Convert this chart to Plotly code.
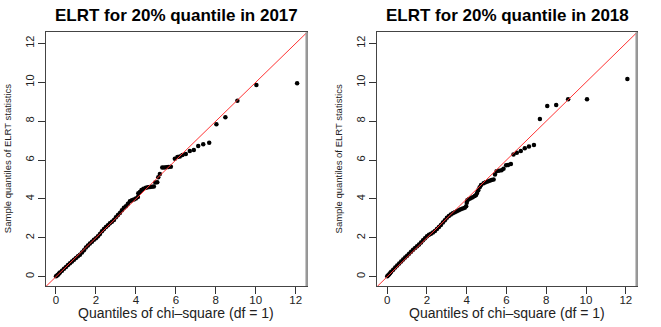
import plotly.graph_objects as go
from plotly.subplots import make_subplots

# theoretical chi-square(1) quantiles vs sample ELRT quantiles
x_2017 = [0.00, 0.05, 0.10, 0.15, 0.20, 0.30, 0.40, 0.50, 0.60, 0.70, 0.80, 0.90,
          1.00, 1.10, 1.20, 1.30, 1.40, 1.50, 1.60, 1.70, 1.80, 1.90, 2.00, 2.10,
          2.20, 2.30, 2.40, 2.50, 2.60, 2.70, 2.80, 2.90, 3.00, 3.10, 3.20, 3.30,
          3.40, 3.50, 3.60, 3.70, 3.80, 3.90, 4.00, 4.10, 4.12, 4.20, 4.28, 4.38,
          4.50, 4.60, 4.70, 4.80, 4.90, 4.97, 5.07, 5.12, 5.20, 5.32, 5.42, 5.52,
          5.62, 5.75, 5.95, 6.08, 6.20, 6.33, 6.50, 6.70, 6.90, 7.12, 7.37, 7.67,
          8.03, 8.48, 9.08, 10.03, 12.07]
y_2017 = [0.02, 0.06, 0.10, 0.16, 0.22, 0.31, 0.41, 0.50, 0.60, 0.69, 0.78, 0.87,
          0.96, 1.05, 1.13, 1.24, 1.36, 1.50, 1.60, 1.70, 1.79, 1.90, 1.98, 2.08,
          2.20, 2.33, 2.45, 2.55, 2.65, 2.75, 2.82, 2.92, 3.05, 3.17, 3.28, 3.42,
          3.55, 3.62, 3.75, 3.88, 3.93, 3.97, 4.02, 4.10, 4.29, 4.35, 4.46, 4.52,
          4.57, 4.60, 4.61, 4.62, 4.64, 4.84, 4.86, 5.12, 5.28, 5.61, 5.62, 5.63,
          5.64, 5.66, 6.07, 6.15, 6.18, 6.26, 6.31, 6.47, 6.52, 6.72, 6.81, 6.89,
          7.84, 8.20, 9.05, 9.86, 9.95]

x_2018 = [0.00, 0.05, 0.10, 0.15, 0.20, 0.30, 0.40, 0.50, 0.60, 0.70, 0.80, 0.90,
          1.00, 1.10, 1.20, 1.30, 1.40, 1.50, 1.60, 1.70, 1.80, 1.90, 2.00, 2.10,
          2.20, 2.30, 2.40, 2.50, 2.60, 2.70, 2.80, 2.90, 3.00, 3.10, 3.20, 3.30,
          3.40, 3.50, 3.60, 3.70, 3.80, 3.90, 3.97, 4.00, 4.03, 4.10, 4.20, 4.30,
          4.40, 4.47, 4.52, 4.58, 4.65, 4.72, 4.85, 4.95, 5.05, 5.15, 5.25, 5.35,
          5.42, 5.50, 5.62, 5.75, 5.85, 5.98, 6.08, 6.22, 6.35, 6.52, 6.72, 6.92,
          7.13, 7.38, 7.68, 8.05, 8.50, 9.10, 10.05, 12.08]
y_2018 = [0.02, 0.07, 0.13, 0.19, 0.25, 0.36, 0.47, 0.57, 0.68, 0.78, 0.88, 0.98,
          1.08, 1.18, 1.28, 1.38, 1.47, 1.56, 1.66, 1.76, 1.87, 1.98, 2.08, 2.15,
          2.21, 2.27, 2.35, 2.45, 2.55, 2.66, 2.78, 2.90, 3.03, 3.12, 3.20, 3.26,
          3.31, 3.36, 3.42, 3.47, 3.51, 3.55, 3.62, 3.80, 3.93, 3.98, 4.04, 4.09,
          4.15, 4.20, 4.30, 4.45, 4.60, 4.72, 4.80, 4.86, 4.90, 4.94, 4.97, 5.00,
          5.25, 5.42, 5.45, 5.48, 5.55, 5.73, 5.75, 5.80, 6.29, 6.38, 6.47, 6.60,
          6.69, 6.77, 8.11, 8.78, 8.83, 9.13, 9.13, 10.17]

ref_line = [-1, 13]          # y = x reference
tick_vals = [0, 2, 4, 6, 8, 10, 12]
titles = ["ELRT for 20% quantile in 2017", "ELRT for 20% quantile in 2018"]
x_title = "Quantiles of chi\u2013square (df = 1)"
y_title = "Sample quantiles of ELRT statistics"

W, H = 661, 327
domains_x = [(46 / W, 306.7 / W), (377.3 / W, 636.7 / W)]
domain_y = (1 - 286 / H, 1 - 32.3 / H)

fig = make_subplots(rows=1, cols=2)

for i, (xs, ys) in enumerate([(x_2017, y_2017), (x_2018, y_2018)]):
    col = i + 1
    fig.add_trace(go.Scatter(x=xs, y=ys, mode="markers",
                             marker=dict(color="black", size=4.5),
                             showlegend=False), row=1, col=col)
    fig.add_trace(go.Scatter(x=ref_line, y=ref_line, mode="lines",
                             line=dict(color="#ff3333", width=1),
                             showlegend=False), row=1, col=col)

axis_common = dict(
    range=[-0.5, 12.55], tickvals=tick_vals, ticks="outside", ticklen=7,
    tickcolor="#333", showgrid=False, zeroline=False, showline=True,
    linecolor="#444", linewidth=1, mirror=True,
)
for i in range(2):
    xa = "xaxis" if i == 0 else "xaxis2"
    ya = "yaxis" if i == 0 else "yaxis2"
    fig.layout[xa].update(domain=domains_x[i], ticklabelstandoff=-4,
                          tickfont=dict(family="Liberation Sans, Arial", size=11.5, color="#222"),
                          **axis_common)
    fig.layout[ya].update(domain=domain_y, tickangle=-90,
                          tickfont=dict(family="Liberation Sans, Arial", size=11, color="#222"),
                          **dict(axis_common, range=[-0.48, 12.57]))

annotations = []
for i in range(2):
    x0, x1 = domains_x[i]
    xc = (x0 + x1) / 2
    annotations.append(dict(text="<b>%s</b>" % titles[i], x=xc, y=1 - 16 / H,
                            xref="paper", yref="paper", showarrow=False,
                            xanchor="center", yanchor="middle",
                            font=dict(family="Liberation Sans, Arial", size=17, color="black")))
    annotations.append(dict(text=x_title, x=xc, y=1 - 313 / H,
                            xref="paper", yref="paper", showarrow=False,
                            xanchor="center", yanchor="middle",
                            font=dict(family="Liberation Sans, Arial", size=14, color="#222")))
    annotations.append(dict(text=y_title, x=(x0 * W - 39) / W, y=sum(domain_y) / 2,
                            xref="paper", yref="paper", showarrow=False, textangle=-90,
                            xanchor="center", yanchor="middle",
                            font=dict(family="Liberation Sans, Arial", size=9.5, color="#222")))

# R's box: right edge comes out as a thicker grey stroke
shapes = []
for i in range(2):
    xr = "x domain" if i == 0 else "x2 domain"
    yr = "y domain" if i == 0 else "y2 domain"
    shapes.append(dict(type="line", xref=xr, yref=yr, x0=1, x1=1, y0=0, y1=1,
                       line=dict(color="#999", width=2.5)))

fig.update_layout(
    width=W, height=H, margin=dict(l=0, r=0, t=0, b=0),
    plot_bgcolor="white", paper_bgcolor="white",
    annotations=annotations, shapes=shapes,
)

# the page body's default 8px margin would push the chart off its place
fig.write_html("out.html", config={"displayModeBar": False},
               post_script="document.body.style.margin='0';")
